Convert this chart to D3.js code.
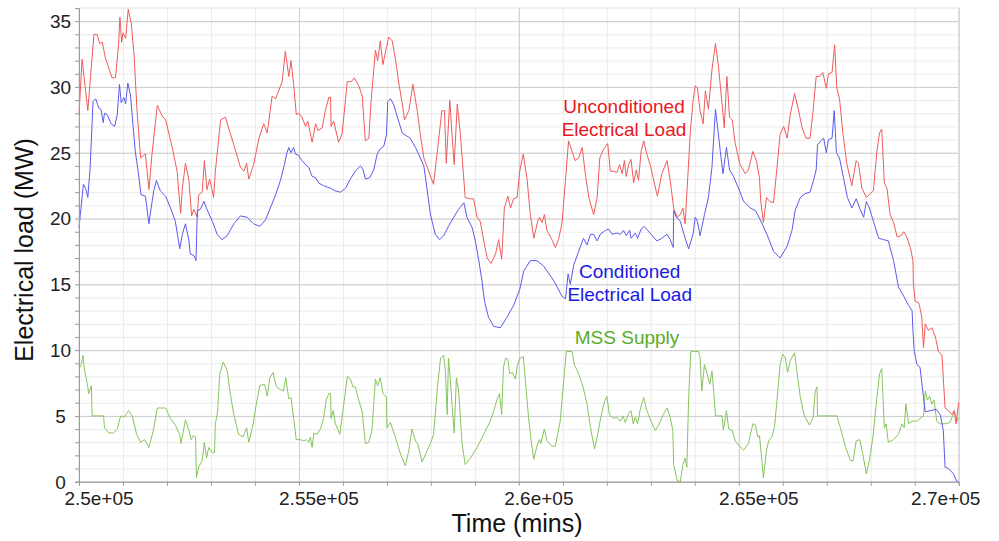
<!DOCTYPE html>
<html>
<head>
<meta charset="utf-8">
<script src="https://cdn.jsdelivr.net/npm/d3@7"></script>
<style>
  body { margin: 0; background: #fff; }
  svg text { font-family: "Liberation Sans", Arial, sans-serif; }
</style>
</head>
<body>
<div id="chart"></div>
<script>
// time (mins) vs load (MW)
var unconditioned = [
  [250000,27.9],[250070,32.1],[250200,28.2],[250340,34.0],[250410,34.0],[250470,33.3],[250530,33.4],
  [250600,32.2],[250750,30.7],[250830,30.7],[250900,33.2],[250930,35.3],[250970,33.4],[251000,34.1],
  [251060,33.7],[251120,35.9],[251190,34.8],[251250,32.5],[251320,28.2],[251400,24.6],[251510,24.9],
  [251590,22.2],[251660,24.9],[251780,28.6],[251890,27.8],[251970,27.5],[252120,25.4],[252230,23.6],
  [252310,20.4],[252350,22.3],[252420,24.2],[252500,22.9],[252560,20.2],[252610,20.7],[252690,20.1],
  [252720,21.8],[252800,22.0],[252850,24.4],[252910,22.2],[252970,23.0],[253060,21.6],[253100,23.6],
  [253220,27.5],[253330,27.7],[253400,26.9],[253520,25.6],[253670,23.9],[253750,23.6],[253810,24.2],
  [253860,23.0],[253970,24.1],[254090,26.1],[254200,27.2],[254280,26.5],[254390,29.3],[254470,29.1],
  [254620,30.4],[254690,32.7],[254770,30.8],[254820,32.0],[254880,30.2],[254940,27.9],[255000,28.0],
  [255070,27.7],[255150,27.0],[255200,27.4],[255300,25.8],[255380,27.2],[255430,26.7],[255530,26.9],
  [255600,28.2],[255680,29.2],[255720,29.2],[255730,27.0],[255790,27.4],[255900,25.8],[255980,26.4],
  [256100,30.4],[256190,30.4],[256260,30.7],[256360,30.1],[256440,29.3],[256510,25.9],[256590,26.1],
  [256640,28.9],[256740,32.8],[256790,32.0],[256850,33.5],[256910,31.7],[256990,33.0],[257040,33.8],
  [257120,33.5],[257190,32.2],[257270,30.3],[257350,28.7],[257400,27.5],[257500,28.2],[257590,30.2],
  [257690,28.2],[257760,26.4],[257840,24.6],[257950,23.6],[258060,22.6],[258140,24.9],[258250,28.2],
  [258310,28.2],[258350,24.2],[258430,29.0],[258480,26.4],[258530,24.1],[258600,28.7],[258670,26.4],
  [258780,21.6],[258900,21.5],[258970,21.5],[259050,20.1],[259120,19.8],[259220,18.0],[259280,17.0],
  [259370,16.6],[259470,17.3],[259540,18.4],[259610,16.9],[259670,20.8],[259750,21.7],[259810,20.8],
  [259880,21.5],[259960,21.6],[260020,23.6],[260100,24.9],[260190,22.9],[260260,20.3],[260340,18.5],
  [260430,19.8],[260470,20.1],[260530,19.7],[260580,20.3],[260640,19.1],[260750,18.4],[260830,17.8],
  [260900,18.4],[260980,19.6],[261060,22.9],[261130,25.9],[261210,25.1],[261280,24.4],[261360,24.6],
  [261440,25.4],[261510,23.4],[261590,21.6],[261700,20.3],[261780,21.6],[261840,24.6],[261930,25.3],
  [262020,25.7],[262080,23.6],[262150,23.6],[262230,23.5],[262290,24.1],[262350,23.4],[262400,24.4],
  [262440,23.2],[262500,24.1],[262550,24.5],[262610,22.7],[262670,23.7],[262720,22.9],[262780,25.1],
  [262840,25.9],[262910,24.9],[263000,23.9],[263080,22.7],[263150,21.7],[263250,23.4],[263370,24.4],
  [263440,22.9],[263520,20.8],[263600,20.1],[263670,20.3],[263730,20.8],[263780,19.6],[263840,23.1],
  [263900,26.7],[263960,28.9],[264010,30.1],[264060,29.9],[264120,28.2],[264190,27.2],[264240,29.7],
  [264310,28.3],[264390,31.3],[264470,33.3],[264540,31.5],[264620,28.7],[264670,26.9],[264730,30.8],
  [264790,27.7],[264850,27.5],[264920,25.7],[265030,24.1],[265150,23.4],[265220,23.7],[265320,25.1],
  [265400,24.4],[265470,23.1],[265500,21.3],[265560,19.7],[265630,21.6],[265700,21.3],[265790,21.2],
  [265870,23.9],[265940,26.4],[266020,27.0],[266100,26.1],[266170,27.9],[266270,29.5],[266360,28.2],
  [266440,26.9],[266530,26.1],[266620,26.1],[266690,28.2],[266760,30.8],[266840,30.8],[266910,31.1],
  [266990,29.9],[267040,31.0],[267120,31.1],[267180,33.2],[267230,29.9],[267290,29.1],[267370,26.4],
  [267460,24.1],[267570,22.5],[267670,24.4],[267720,24.2],[267800,22.3],[267900,21.6],[267990,21.9],
  [268060,22.1],[268140,25.1],[268200,26.5],[268250,26.8],[268310,22.7],[268370,22.3],[268440,20.3],
  [268520,19.7],[268600,18.6],[268690,18.7],[268750,19.0],[268820,18.6],[268900,17.8],[268960,16.8],
  [268970,15.0],[269010,13.7],[269090,13.6],[269120,13.2],[269160,12.5],[269200,10.2],[269240,12.0],
  [269310,11.5],[269390,11.7],[269470,11.0],[269540,9.9],[269620,9.6],[269650,7.9],[269690,5.6],
  [269770,5.4],[269850,5.1],[269900,5.4],[269940,4.4],[270000,6.0]
];

var conditioned = [
  [250000,19.3],[250030,20.3],[250100,22.6],[250150,22.3],[250200,21.6],[250250,23.7],[250280,25.9],
  [250320,28.9],[250380,29.1],[250450,28.4],[250500,28.3],[250550,27.3],[250580,28.0],[250640,27.9],
  [250730,27.2],[250810,27.0],[250870,27.9],[250920,30.2],[250960,28.8],[251020,29.2],[251060,28.7],
  [251110,30.3],[251170,29.4],[251230,27.0],[251280,25.1],[251340,23.7],[251410,21.8],[251510,21.7],
  [251590,19.6],[251640,20.8],[251700,22.1],[251760,22.9],[251850,22.1],[251970,21.7],[252080,20.8],
  [252190,19.8],[252290,17.7],[252350,18.8],[252420,19.6],[252500,18.3],[252530,17.3],[252610,17.2],
  [252660,16.8],[252690,20.6],[252760,20.7],[252840,21.3],[252910,20.7],[253030,19.8],[253140,18.8],
  [253250,18.4],[253370,18.7],[253520,19.6],[253670,20.2],[253820,20.1],[253970,19.6],[254110,19.4],
  [254240,19.9],[254350,20.8],[254470,21.8],[254580,22.9],[254670,24.1],[254720,24.9],[254770,25.4],
  [254820,25.0],[254880,25.4],[254920,24.9],[254990,24.8],[255070,24.4],[255150,24.1],[255220,23.9],
  [255300,23.2],[255380,23.1],[255450,22.7],[255560,22.5],[255720,22.3],[255830,22.1],[255940,22.0],
  [256060,22.3],[256170,23.0],[256280,23.6],[256400,24.0],[256460,23.7],[256510,23.0],[256610,23.1],
  [256700,23.7],[256780,24.9],[256850,25.3],[256930,25.5],[256990,26.4],[257020,28.9],[257080,29.1],
  [257150,28.7],[257230,27.8],[257350,26.5],[257440,26.3],[257530,26.1],[257650,25.4],[257760,24.6],
  [257840,24.0],[257910,22.3],[257990,20.3],[258100,18.8],[258200,18.4],[258290,18.7],[258400,19.4],
  [258520,20.1],[258630,20.7],[258750,21.2],[258820,20.1],[258940,19.3],[259010,18.3],[259090,16.8],
  [259160,15.3],[259220,13.7],[259310,12.5],[259430,11.8],[259580,11.7],[259730,12.5],[259880,13.4],
  [260020,14.6],[260110,16.0],[260260,16.8],[260410,16.8],[260560,16.4],[260790,15.3],[260980,14.1],
  [261060,13.9],[261120,15.8],[261170,15.0],[261250,16.5],[261360,17.5],[261470,18.5],[261550,18.0],
  [261630,18.8],[261700,18.8],[261780,18.3],[261850,18.8],[261970,19.1],[262040,19.2],[262120,18.8],
  [262230,18.9],[262310,18.8],[262380,19.1],[262440,18.7],[262520,19.1],[262550,18.5],[262650,18.9],
  [262700,18.5],[262780,19.2],[262850,19.4],[262930,19.1],[263030,18.7],[263140,18.3],[263250,18.5],
  [263370,18.8],[263440,18.4],[263510,17.8],[263520,20.6],[263580,20.1],[263670,19.8],[263780,18.5],
  [263860,17.7],[263960,18.8],[264010,20.1],[264060,19.8],[264120,18.7],[264220,20.3],[264310,21.6],
  [264390,23.9],[264470,28.3],[264520,26.9],[264580,25.1],[264640,23.4],[264720,25.4],[264790,23.7],
  [264880,23.2],[265020,22.1],[265110,21.3],[265260,20.8],[265380,20.6],[265490,19.9],[265640,18.8],
  [265790,17.5],[265940,17.0],[266100,17.9],[266210,19.1],[266280,20.6],[266400,21.6],[266510,21.9],
  [266620,22.0],[266700,22.9],[266760,23.7],[266790,25.6],[266890,26.0],[266930,26.1],[266990,25.0],
  [267040,26.0],[267120,26.1],[267170,28.2],[267220,25.0],[267290,24.6],[267380,23.1],[267470,21.6],
  [267570,20.8],[267670,21.5],[267760,20.7],[267840,20.1],[267900,21.3],[267970,20.8],[268060,19.8],
  [268180,18.5],[268290,18.4],[268400,18.3],[268520,16.8],[268630,14.8],[268750,14.1],[268860,13.4],
  [268940,13.0],[268960,11.5],[268990,9.9],[269050,8.9],[269120,8.7],[269200,6.4],[269240,5.3],
  [269350,5.4],[269490,5.5],[269580,5.1],[269650,3.9],[269690,1.1],[269770,1.0],[269880,0.6],
  [269960,0.0],[270000,0.0]
];

var mssSupply = [
  [250020,8.7],[250050,8.9],[250090,9.6],[250130,8.4],[250190,7.4],[250220,6.7],[250280,7.3],
  [250300,5.0],[250560,5.0],[250580,4.1],[250680,3.7],[250780,3.7],[250870,4.0],[250930,4.8],
  [250960,5.0],[251020,4.9],[251130,5.4],[251210,5.0],[251310,3.6],[251400,3.0],[251490,3.2],
  [251590,2.6],[251690,3.9],[251780,5.6],[251970,5.6],[252080,4.8],[252190,4.3],[252290,3.6],
  [252320,2.9],[252420,4.7],[252500,3.9],[252550,3.2],[252600,3.5],[252650,3.4],[252670,0.3],
  [252720,1.1],[252800,1.6],[252850,3.0],[252900,1.8],[252950,2.6],[253030,2.2],[253080,2.2],
  [253100,4.4],[253150,5.3],[253200,8.2],[253280,9.1],[253370,8.4],[253440,6.7],[253520,5.1],
  [253630,3.6],[253730,3.4],[253810,4.1],[253860,3.0],[253960,4.4],[254030,5.9],[254110,7.3],
  [254220,7.4],[254280,6.5],[254340,7.9],[254410,8.3],[254490,7.2],[254580,7.0],[254650,6.9],
  [254700,7.9],[254770,6.3],[254820,6.4],[254880,4.8],[254940,3.2],[255030,3.2],[255110,3.1],
  [255170,3.2],[255220,3.0],[255260,3.4],[255300,2.6],[255340,3.7],[255410,3.6],[255490,4.0],
  [255560,4.8],[255620,6.2],[255680,6.7],[255720,6.7],[255730,4.8],[255780,5.4],[255830,4.4],
  [255930,3.6],[256020,5.9],[256100,8.0],[256170,7.8],[256230,7.2],[256280,7.2],[256360,6.2],
  [256440,5.3],[256510,2.9],[256590,3.0],[256660,3.9],[256740,7.8],[256790,7.3],[256850,7.9],
  [256910,6.7],[256990,6.4],[257000,4.1],[257080,4.5],[257190,3.4],[257310,2.1],[257420,1.2],
  [257500,2.4],[257570,4.0],[257650,3.1],[257700,2.9],[257800,1.5],[257880,2.1],[257990,2.9],
  [258060,3.6],[258100,5.1],[258150,7.2],[258220,9.4],[258290,9.6],[258330,8.4],[258370,5.1],
  [258400,9.4],[258440,7.9],[258480,5.9],[258530,3.7],[258580,7.9],[258630,6.9],[258710,2.9],
  [258780,1.3],[258900,1.8],[259050,2.6],[259200,3.6],[259350,4.6],[259430,5.4],[259500,6.2],
  [259560,6.7],[259610,5.1],[259650,8.7],[259700,9.4],[259750,9.3],[259790,8.2],[259850,8.3],
  [259920,7.8],[259970,8.9],[260030,9.4],[260100,9.5],[260150,7.7],[260220,4.9],[260280,3.1],
  [260340,1.7],[260410,2.7],[260470,3.2],[260500,2.9],[260580,4.0],[260640,3.1],[260750,2.7],
  [260830,2.7],[260940,4.6],[261020,7.7],[261080,9.9],[261210,9.9],[261260,8.9],[261360,8.2],
  [261460,7.2],[261550,5.9],[261630,4.1],[261720,2.5],[261780,3.4],[261870,5.0],[261930,5.9],
  [262000,6.5],[262060,5.1],[262150,4.8],[262230,4.9],[262310,4.6],[262370,5.0],[262420,4.5],
  [262500,5.2],[262550,5.4],[262600,4.4],[262650,4.9],[262700,4.4],[262760,5.5],[262840,6.4],
  [262910,5.4],[263030,4.4],[263100,3.9],[263180,4.3],[263280,5.1],[263370,5.6],[263440,4.9],
  [263500,3.9],[263520,1.3],[263600,0.1],[263670,0.0],[263730,1.3],[263780,1.8],[263820,1.1],
  [263860,6.4],[263910,9.9],[264090,9.9],[264120,9.4],[264160,6.9],[264220,8.9],[264280,8.2],
  [264340,7.4],[264390,8.4],[264430,6.9],[264470,5.0],[264620,5.0],[264650,3.9],[264720,5.4],
  [264770,4.0],[264850,3.9],[264920,3.1],[265020,2.7],[265110,2.4],[265220,2.9],[265320,4.4],
  [265380,4.3],[265430,3.4],[265470,3.5],[265520,1.8],[265560,0.3],[265630,2.4],[265680,3.1],
  [265750,3.4],[265810,4.1],[265870,6.2],[265940,8.9],[266000,9.7],[266060,9.4],[266110,8.3],
  [266170,9.2],[266270,9.8],[266320,8.4],[266400,6.4],[266490,5.0],[266610,4.3],[266690,4.9],
  [266740,6.9],[266780,7.2],[266790,5.0],[267230,5.0],[267310,4.1],[267430,2.6],[267540,1.6],
  [267600,1.6],[267670,3.1],[267750,3.2],[267820,2.1],[267900,0.6],[267970,1.6],[268050,3.4],
  [268140,6.4],[268200,8.2],[268250,8.6],[268280,6.4],[268310,4.1],[268350,4.4],[268400,3.0],
  [268520,3.2],[268630,3.6],[268710,4.4],[268760,4.1],[268800,5.9],[268860,4.4],[268940,4.6],
  [269050,4.6],[269160,4.9],[269200,5.0],[269240,6.9],[269290,6.2],[269340,6.5],[269390,5.9],
  [269440,6.2],[269500,4.6],[269580,4.4],[269690,4.4],[269800,4.5],[269860,5.0],[269900,5.4],
  [269960,4.6],[270000,4.9]
];

var xTicks = [250000, 255000, 260000, 265000, 270000];
var xTickLabels = ["2.5e+05", "2.55e+05", "2.6e+05", "2.65e+05", "2.7e+05"];
var yTicks = [0, 5, 10, 15, 20, 25, 30, 35];

var labels = [
  {lines: ["Unconditioned", "Electrical Load"], x: 262390, y: [28.0, 26.25], color: "#e8191c"},
  {lines: ["Conditioned", "Electrical Load"], x: 262520, y: [15.45, 13.75], color: "#1a1ae0"},
  {lines: ["MSS Supply"], x: 262460, y: [10.47], color: "#5aab2a"}
];

var W = 999, H = 541;
var margin = {top: 8, right: 40, bottom: 59, left: 79};
var width = 958.7 - margin.left, height = 481.7 - margin.top;

var svg = d3.select("#chart").append("svg")
  .attr("width", W).attr("height", H);
var g = svg.append("g")
  .attr("transform", "translate(" + margin.left + "," + margin.top + ")");

var x = d3.scaleLinear().domain([250000, 270000]).range([0, width]);
var y = d3.scaleLinear().domain([0, 36]).range([height, 0]);

// grid: minor then major
g.append("g").attr("class", "grid-minor")
  .call(d3.axisLeft(y).tickValues(d3.range(0, 36, 1)).tickSize(-width).tickFormat(""))
  .call(function(s) { s.select(".domain").remove(); })
  .selectAll("line").attr("stroke", "#ebebeb");
g.append("g").attr("class", "grid-minor")
  .attr("transform", "translate(0," + height + ")")
  .call(d3.axisBottom(x).tickValues(d3.range(250000, 270001, 1000)).tickSize(-height).tickFormat(""))
  .call(function(s) { s.select(".domain").remove(); })
  .selectAll("line").attr("stroke", "#ebebeb");
g.append("g").attr("class", "grid-major")
  .call(d3.axisLeft(y).tickValues(yTicks).tickSize(-width).tickFormat(""))
  .call(function(s) { s.select(".domain").remove(); })
  .selectAll("line").attr("stroke", "#cccccc");
g.append("g").attr("class", "grid-major")
  .attr("transform", "translate(0," + height + ")")
  .call(d3.axisBottom(x).tickValues(xTicks).tickSize(-height).tickFormat(""))
  .call(function(s) { s.select(".domain").remove(); })
  .selectAll("line").attr("stroke", "#cccccc");

// frame
g.append("rect").attr("width", width).attr("height", height)
  .attr("fill", "none").attr("stroke", "#dddddd");

// series
var line = d3.line().x(function(d) { return x(d[0]); }).y(function(d) { return y(d[1]); });
g.append("path").datum(mssSupply).attr("d", line)
  .attr("fill", "none").attr("stroke", "#86c45e").attr("stroke-width", 1);
g.append("path").datum(unconditioned).attr("d", line)
  .attr("fill", "none").attr("stroke", "#f25a5a").attr("stroke-width", 1);
g.append("path").datum(conditioned).attr("d", line)
  .attr("fill", "none").attr("stroke", "#5a5aee").attr("stroke-width", 1);

// axes
var yAxis = g.append("g")
  .call(d3.axisLeft(y).tickValues(d3.range(0, 36, 1)).tickSize(4).tickFormat(""));
yAxis.selectAll("line").attr("stroke", "#999");
yAxis.select(".domain").attr("stroke", "#999");
yAxis.selectAll(".ylab").data(yTicks).enter().append("text")
  .attr("class", "ylab")
  .attr("x", 60.5 - margin.left).attr("y", function(d) { return y(d) + 6.8; })
  .attr("text-anchor", "middle").attr("fill", "#222").style("font-size", "19px")
  .text(function(d) { return d; });

var xAxis = g.append("g").attr("transform", "translate(0," + height + ")")
  .call(d3.axisBottom(x).tickValues(d3.range(250000, 270001, 1000)).tickSize(4).tickFormat(""));
xAxis.selectAll("line").attr("stroke", "#999");
xAxis.select(".domain").attr("stroke", "#999");
xAxis.selectAll(".xlab").data(xTicks).enter().append("text")
  .attr("class", "xlab")
  .attr("x", function(d, i) { return x(d) + (i === xTicks.length - 1 ? -13 : 20); })
  .attr("y", 23.5)
  .attr("text-anchor", "middle").attr("fill", "#222").style("font-size", "19px")
  .text(function(d, i) { return xTickLabels[i]; });

// titles
svg.append("text")
  .attr("transform", "translate(33,250) rotate(-90)")
  .attr("text-anchor", "middle").attr("fill", "#111").style("font-size", "25px")
  .text("Electrical load (MW)");
svg.append("text")
  .attr("x", 517).attr("y", 532)
  .attr("text-anchor", "middle").attr("fill", "#111").style("font-size", "25px")
  .text("Time (mins)");

// in-plot labels
labels.forEach(function(l) {
  l.lines.forEach(function(t, i) {
    g.append("text")
      .attr("x", x(l.x)).attr("y", y(l.y[i]))
      .attr("text-anchor", "middle").attr("fill", l.color).style("font-size", "19px")
      .text(t);
  });
});
</script>
</body>
</html>
